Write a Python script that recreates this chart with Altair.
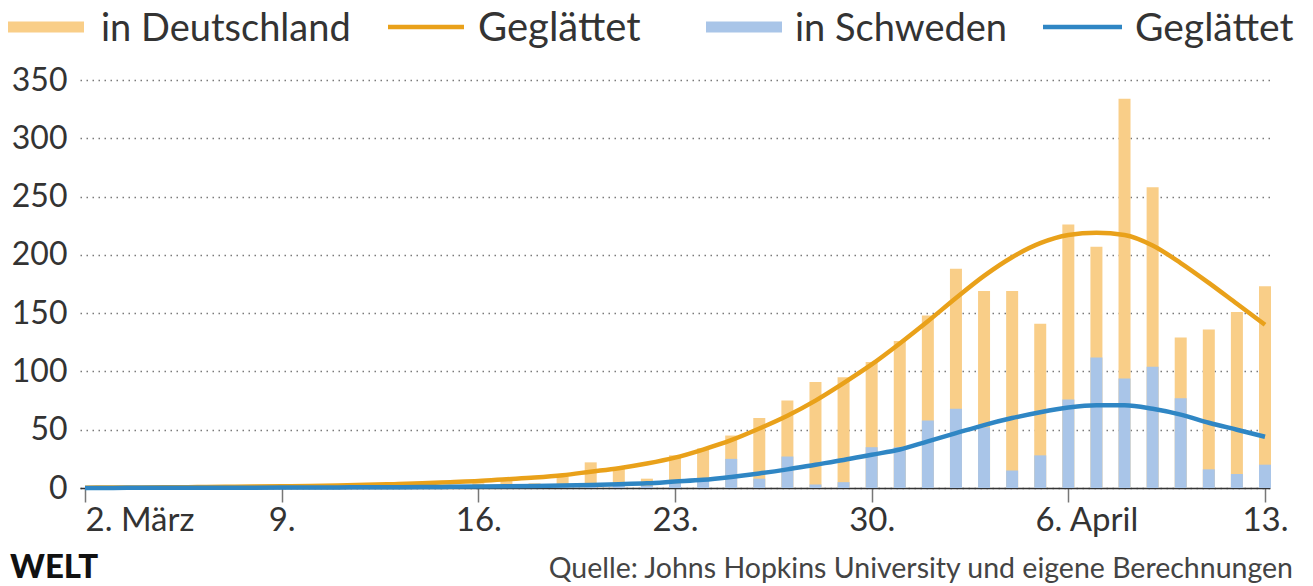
import altair as alt
import pandas as pd

# ---------------- data ----------------
dates = pd.date_range("2020-03-02", "2020-04-13", freq="D").strftime("%Y-%m-%d").tolist()

de_daily = [0, 0, 0, 0, 0, 0, 0,
            2, 0, 1, 3, 1, 2, 2,
            4, 7, 4, 10, 22, 17, 8,
            28, 34, 45, 60, 75, 91, 95,
            108, 126, 148, 188, 169, 169, 141,
            226, 207, 334, 258, 129, 136, 151,
            173]
se_daily = [0, 0, 0, 0, 0, 0, 0,
            0, 0, 1, 0, 0, 0, 1,
            1, 2, 2, 1, 3, 4, 2,
            4, 6, 25, 8, 27, 3, 5,
            35, 35, 58, 68, 52, 15, 28,
            76, 112, 94, 104, 77, 16, 12,
            20]
de_smooth = [0.3, 0.4, 0.5, 0.6, 0.8, 1.0, 1.2,
             1.5, 1.8, 2.2, 2.7, 3.3, 4.0, 5.0,
             6.0, 7.5, 9.0, 11, 14, 17, 21,
             26, 33, 41, 51, 62, 75, 90,
             106, 124, 143, 163, 182, 198, 210,
             217, 219, 217, 208, 193, 176, 158,
             140]
se_smooth = [0.1, 0.1, 0.2, 0.2, 0.2, 0.3, 0.3,
             0.4, 0.4, 0.5, 0.6, 0.7, 0.8, 1.0,
             1.2, 1.4, 1.7, 2.1, 2.6, 3.2, 4.0,
             5.5, 7.0, 9.5, 12.5, 16, 20, 24,
             28.5, 33, 40, 47, 54, 60, 65,
             69, 71, 71, 68, 63, 56, 50,
             44]

tick_dates = ["2020-03-02", "2020-03-09", "2020-03-16", "2020-03-23",
              "2020-03-30", "2020-04-06", "2020-04-13"]
tick_labels = ["2. März", "9.", "16.", "23.", "30.", "6. April", "13."]
y_ticks = [0, 50, 100, 150, 200, 250, 300, 350]

legend_labels = ["in Deutschland", "Geglättet", "in Schweden", "Geglättet"]
source_text = "Quelle: Johns Hopkins University und eigene Berechnungen"
logo_text = "WELT"

# ---------------- style ----------------
C_DE_BAR = "#F9CE88"
C_DE_LINE = "#E9A11A"
C_SE_BAR = "#A9C5E8"
C_SE_LINE = "#2F86C4"
TEXT = "#333333"
FONT = "Lato"

df = pd.DataFrame({"date": dates, "de": de_daily, "se": se_daily,
                   "de_s": de_smooth, "se_s": se_smooth})


def dt(s):
    y, m, d = (int(p) for p in s.split("-"))
    return alt.DateTime(year=y, month=m, date=d, utc=True)


label_expr = "''"
for d, l in reversed(list(zip(tick_dates, tick_labels))):
    label_expr = f"utcFormat(datum.value, '%Y-%m-%d') == '{d}' ? '{l}' : ({label_expr})"

xscale = alt.Scale(type="utc", domain=[dt(tick_dates[0]), dt(tick_dates[-1])])
yscale = alt.Scale(domain=[0, 350], nice=False)

x_axis = alt.Axis(
    values=[dt(d) for d in tick_dates], labelExpr=label_expr, title=None,
    grid=False, domain=True, domainColor="#333333", domainWidth=1.5,
    ticks=True, tickColor="#777777", tickSize=14, tickWidth=1.5,
    labelFontSize=33, labelColor=TEXT, labelFont=FONT, labelPadding=2,
    labelAlign={"condition": {"test": "utcdate(datum.value) == 2", "value": "left"}, "value": "center"},
    labelOffset={"condition": {"test": "utcdate(datum.value) == 6", "value": 18}, "value": 0},
    labelFlush=False, labelOverlap=False,
)
y_axis = alt.Axis(
    values=y_ticks, title=None, grid=True, gridDash=[1.5, 4.5], gridColor="#7a7a7a",
    gridWidth=1.5, domain=False, ticks=False, labelFontSize=32, labelColor=TEXT,
    labelFont=FONT, labelPadding=13,
)

base = alt.Chart(df)


def enc(field):
    return dict(
        x=alt.X("date:T", scale=xscale, axis=x_axis),
        y=alt.Y(f"{field}:Q", scale=yscale, axis=y_axis),
    )


bars_de = base.mark_bar(width=12, color=C_DE_BAR).encode(**enc("de"))
bars_se = base.mark_bar(width=12, color=C_SE_BAR).encode(**enc("se"))
line_de = base.mark_line(color=C_DE_LINE, strokeWidth=4.5, interpolate="monotone").encode(**enc("de_s"))
line_se = base.mark_line(color=C_SE_LINE, strokeWidth=4.5, interpolate="monotone").encode(**enc("se_s"))

one = pd.DataFrame({"k": [0]})


def sym(x1, x2, color, width):
    return alt.Chart(one).mark_rule(color=color, strokeWidth=width, strokeCap="butt").encode(
        x=alt.value(x1), x2=alt.value(x2), y=alt.value(-53), y2=alt.value(-53))


def txt(x, text, size=37, align="left", y=-40, weight="normal", color=TEXT):
    return alt.Chart(one).mark_text(text=text, align=align, baseline="alphabetic",
                                    fontSize=size, font=FONT, color=color,
                                    fontWeight=weight).encode(
        x=alt.value(x), y=alt.value(y))


legend = [
    sym(-72, 4, C_DE_BAR, 11), txt(21, legend_labels[0], size=38, y=-39),
    sym(308, 384, C_DE_LINE, 4.5), txt(398, legend_labels[1], size=40, y=-39),
    sym(626, 702, C_SE_BAR, 11), txt(715, legend_labels[2], size=38, y=-39),
    sym(963, 1042, C_SE_LINE, 4.5), txt(1055, legend_labels[3], size=39, y=-39),
]
footer = [
    txt(-70, logo_text, size=33, y=498, weight=900, color="#111111"),
    txt(1213, source_text, size=28.5, align="right", y=498, color="#444444"),
]

chart = alt.layer(bars_de, bars_se, line_de, line_se, *legend, *footer).properties(
    width=1190, height=408,
    padding={"left": 72, "top": 72, "right": 35, "bottom": 96},
    autosize=alt.AutoSizeParams(type="none"),
    background="white",
).configure(font=FONT).configure_view(strokeWidth=0, stroke="transparent")

chart.save("out.html", embed_options={"renderer": "svg", "actions": False})
